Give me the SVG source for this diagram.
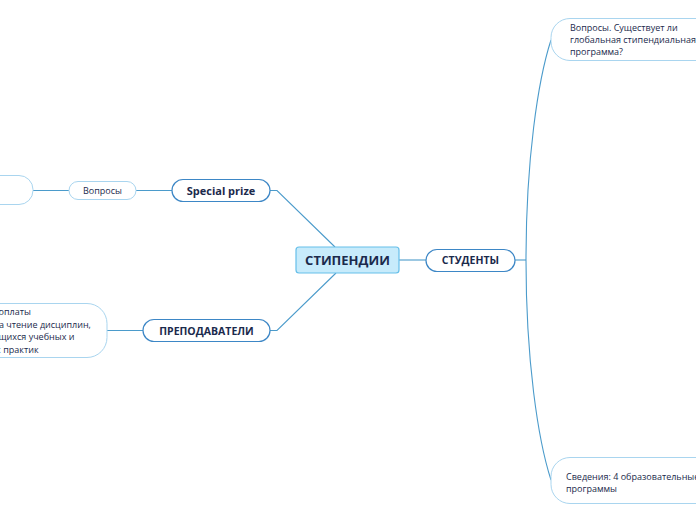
<svg xmlns="http://www.w3.org/2000/svg" width="696" height="520" viewBox="0 0 696 520">
<style>
text{font-family:"Open Sans","Noto Sans","Liberation Sans",sans-serif;fill:#1b2a4c}
.b{font-weight:bold}
.sm{font-size:9px}
.conn{fill:none;stroke:#4b9bcb;stroke-width:1.1}
.main{fill:#fff;stroke:#3d87c6;stroke-width:1.2}
.sub{fill:#fff;stroke:#a9d5ef;stroke-width:1}
</style>
<rect width="696" height="520" fill="#fff"/>
<g id="connectors">
<path class="conn" d="M270,190.5 H277 L335,247"/>
<path class="conn" d="M270,330.5 H277 L336,273"/>
<path class="conn" d="M399,260 H426"/>
<path class="conn" d="M515,260 H526"/>
<path class="conn" d="M526,260 C526,160 538,80 551,40" stroke-width="1.4"/>
<path class="conn" d="M526,260 C526,360 538,440 551,480" stroke-width="1.4"/>
<path class="conn" d="M136,190.5 H172"/>
<path class="conn" d="M33,190.5 H69"/>
<path class="conn" d="M107,330.5 H143"/>
</g>
<g id="root">
<rect x="296" y="247" width="103" height="26" rx="3" fill="#c7ebfb" stroke="#66bfe9" stroke-width="1.2"/>
<text x="347.5" y="265" class="b" font-size="13" text-anchor="middle">СТИПЕНДИИ</text>
</g>
<g id="students">
<rect x="426" y="249.5" width="89" height="22" rx="11" class="main"/>
<text x="470.5" y="264.3" class="b" font-size="10.5" text-anchor="middle">СТУДЕНТЫ</text>
</g>
<g id="special">
<rect x="172" y="179.5" width="98" height="22" rx="11" class="main"/>
<text x="221" y="195" class="b" font-size="11" text-anchor="middle">Special prize</text>
</g>
<g id="voprosy">
<rect x="69" y="181.5" width="67" height="18" rx="9" class="sub"/>
<text x="102.5" y="194" class="sm" text-anchor="middle">Вопросы</text>
</g>
<g id="left-top">
<rect x="-120" y="175.5" width="153" height="29" rx="14" class="sub"/>
</g>
<g id="teachers">
<rect x="143" y="319.5" width="127" height="22" rx="11" class="main"/>
<text x="206.5" y="335" class="b" font-size="10.5" text-anchor="middle">ПРЕПОДАВАТЕЛИ</text>
</g>
<g id="left-bottom">
<rect x="-120" y="303.5" width="227" height="54" rx="20" class="sub"/>
<text class="sm"><tspan x="-1.5" y="315">оплаты</tspan><tspan x="-1" y="327.5">а чтение дисциплин,</tspan><tspan x="-1.5" y="340">щихся учебных  и</tspan><tspan x="-1.5" y="352.5">: практик</tspan></text>
</g>
<g id="q-global">
<rect x="551" y="18.5" width="180" height="42" rx="19" class="sub"/>
<text class="sm"><tspan x="570" y="30.5">Вопросы. Существует ли</tspan><tspan x="570" y="42.5">глобальная стипендиальная</tspan><tspan x="570" y="54.5">программа?</tspan></text>
</g>
<g id="info">
<rect x="551" y="457.5" width="180" height="46" rx="19" class="sub"/>
<text class="sm"><tspan x="566" y="479.5">Сведения: 4 образовательные</tspan><tspan x="566" y="491.5">программы</tspan></text>
</g>
</svg>
